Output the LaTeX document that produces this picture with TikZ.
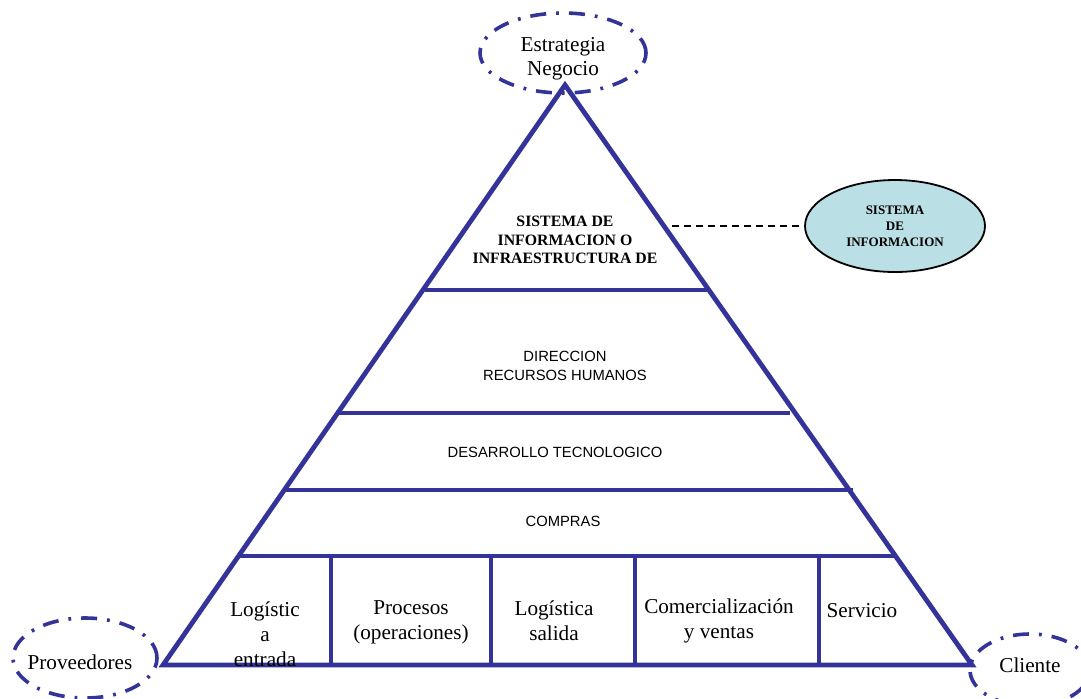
\documentclass[tikz,border=0pt]{standalone}
\usepackage{fontspec}
\setmainfont{Liberation Serif}
\setsansfont{Liberation Sans}
\usetikzlibrary{shapes.geometric}
\definecolor{pyrblue}{HTML}{333399}
\definecolor{sifill}{HTML}{BADFE4}

\begin{document}
\begin{tikzpicture}[x=0.5pt, y=-0.5pt,
	pyr/.style={draw=pyrblue, line width=2.4pt, line join=miter},
	band/.style={draw=pyrblue, line width=1.8pt},
	dashell/.style={ellipse, draw=pyrblue, line width=1.8pt, dash pattern=on 8pt off 5pt on 1.4pt off 5pt, inner sep=0pt},
	elltext/.style={align=center, font=\fontsize{10.6}{12}\selectfont},
	suptext/.style={align=center, font=\sffamily\fontsize{7.4}{9.5}\selectfont},
	primtext/.style={align=center, font=\fontsize{10.6}{12.5}\selectfont}]
	\useasboundingbox (0,0) rectangle (1081,698);
	\clip (0,0) rectangle (1081,698);

	\coordinate (top) at (565,85);
	\coordinate (bl)  at (163,665);
	\coordinate (br)  at (972,665);

	\coordinate (l1) at (425,290);	\coordinate (r1) at (709,290);
	\coordinate (l2) at (338,413);	\coordinate (r2) at (790,413);
	\coordinate (l3) at (284,490);	\coordinate (r3) at (853,490);
	\coordinate (l4) at (239,556);	\coordinate (r4) at (896,556);

	\path[band]
	(l1)	edge	(r1)
	(l2)	edge	(r2)
	(l3)	edge	(r3)
	(l4)	edge	(r4);
	\foreach \x in {331,491,635,819}
		\draw[band] (\x,556) -- (\x,665);

	\draw[pyr] (top) -- (bl) -- (br) -- cycle;

	\node[align=center, font=\bfseries\fontsize{7.9}{9.2}\selectfont] (infra) at (565,240) {SISTEMA DE\\INFORMACION O\\INFRAESTRUCTURA DE};
	\node[suptext]	(rrhh)		at (565,366)	{DIRECCION\\RECURSOS HUMANOS};
	\node[suptext]	(tecno)		at (555,452)	{DESARROLLO TECNOLOGICO};
	\node[suptext]	(compras)	at (563,521)	{COMPRAS};

	\node[primtext]	(login)		at (265,634)	{Logístic\\a\\entrada};
	\node[primtext]	(procesos)	at (411,622)	{Procesos\\(operaciones)};
	\node[primtext]	(logout)	at (554,621)	{Logística\\salida};
	\node[primtext]	(comercial)	at (719,621)	{Comercialización\\y ventas};
	\node[primtext]	(servicio)	at (862,611)	{Servicio};

	\node[dashell, minimum width=83pt, minimum height=40pt]	(estrategia)	at (563,53)		{};
	\node[dashell, minimum width=72pt, minimum height=40pt]	(proveedores)	at (85,658)		{};
	\node[dashell, minimum width=60pt, minimum height=36pt]	(cliente)		at (1030,670)	{};
	\node[elltext]	(estrtext)	at (563,59)		{Estrategia\\Negocio};
	\node[elltext]	(provtext)	at (80,662)		{Proveedores};
	\node[elltext]	(clitext)	at (1030,665)	{Cliente};

	\node[ellipse, draw, fill=sifill, line width=0.9pt, minimum width=90pt, minimum height=46pt, inner sep=0pt, align=center, font=\bfseries\fontsize{6.5}{8}\selectfont] (si) at (895,226) {SISTEMA\\DE\\INFORMACION};
	\coordinate (link) at (672,226);
	\draw[line width=0.8pt, dash pattern=on 3.5pt off 2.5pt] (link) -- (si);
\end{tikzpicture}
\end{document}
